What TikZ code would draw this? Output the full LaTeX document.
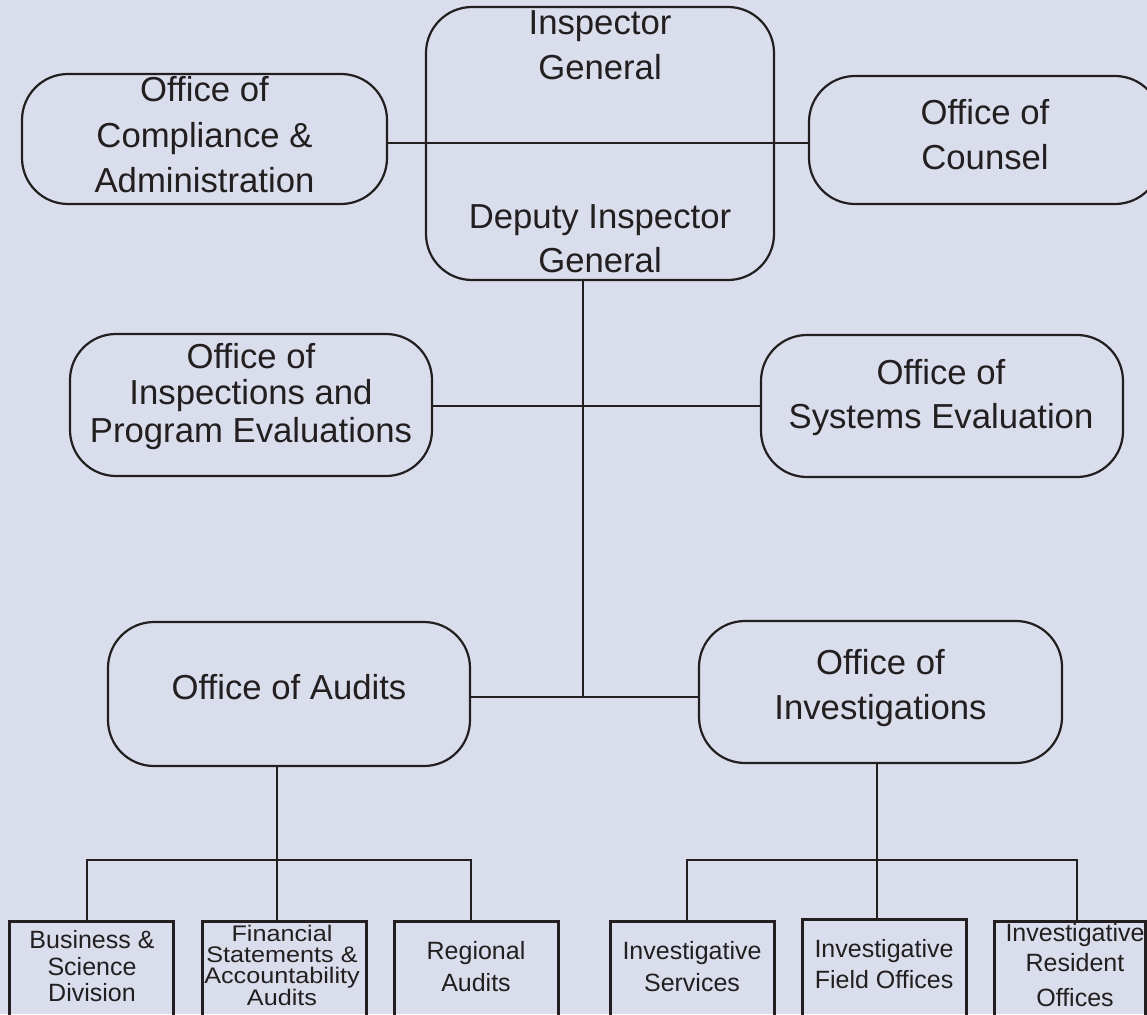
\documentclass[tikz,border=0pt]{standalone}
\usepackage{fontspec}
\setmainfont{Liberation Sans}
\newfontfamily\widesans[FakeStretch=1.12]{Liberation Sans}
\definecolor{bg}{HTML}{DADDEB}
\definecolor{ink}{HTML}{231F20}
\begin{document}
\begin{tikzpicture}[x=1pt,y=-1pt,
  office/.style={draw=ink, line width=2.2pt, rounded corners=46pt, inner sep=0pt},
  unit/.style={draw=ink, line width=3pt, inner sep=0pt, minimum width=164pt, minimum height=119pt},
  link/.style={draw=ink, line width=2pt},
  sublink/.style={draw=ink, line width=2.6pt},
  big/.style={font=\fontsize{34.7}{40}\selectfont, text=ink, anchor=base, inner sep=0pt},
  small/.style={font=\fontsize{25}{30}\selectfont, text=ink, anchor=base, inner sep=0pt},
  narrow/.style={font=\widesans\fontsize{22.5}{26}\selectfont, text=ink, anchor=base, inner sep=0pt}]

% canvas
\useasboundingbox (0,0) rectangle (1147,1014);
\fill[bg] (0,0) rectangle (1147,1014);
\clip (0,0) rectangle (1147,1014);

% top level offices
\node[office, minimum width=365pt, minimum height=130pt] (comp) at (204.5,139) {};
\node[office, minimum width=348pt, minimum height=273pt] (ig) at (600,143.5) {};
\node[office, minimum width=352pt, minimum height=128pt] (couns) at (985,140) {};
\node[office, minimum width=362pt, minimum height=142pt] (insp) at (251,405) {};
\node[office, minimum width=362pt, minimum height=142pt] (sys) at (942,406) {};
\node[office, minimum width=362pt, minimum height=144pt] (aud) at (289,694) {};
\node[office, minimum width=363pt, minimum height=142pt] (inv) at (880.5,692) {};

% divisions
\node[unit] (bus) at (91.5,980.5) {};
\node[unit] (fin) at (284,980.5) {};
\node[unit] (reg) at (476,980.5) {};
\node[unit] (svc) at (692,980.5) {};
\node[unit] (fld) at (884,978.5) {};
\node[unit, minimum width=151pt] (res) at (1069.5,980.5) {};

% labels of the offices
\node[big] (comp1) at (204.5,102) {Office of};
\node[big] (comp2) at (204.5,147) {Compliance \&};
\node[big] (comp3) at (204.5,192) {Administration};
\node[big] (ig1) at (600,35) {Inspector};
\node[big] (ig2) at (600,80) {General};
\node[big] (ig3) at (600,228) {Deputy Inspector};
\node[big] (ig4) at (600,272) {General};
\node[big] (couns1) at (985,124.5) {Office of};
\node[big] (couns2) at (985,169.5) {Counsel};
\node[big] (insp1) at (251,368) {Office of};
\node[big] (insp2) at (251,404.5) {Inspections and};
\node[big] (insp3) at (251,442) {Program Evaluations};
\node[big] (sys1) at (941,384.5) {Office of};
\node[big] (sys2) at (941,428.5) {Systems Evaluation};
\node[big] (aud1) at (289,699) {Office of Audits};
\node[big] (inv1) at (880.5,674) {Office of};
\node[big] (inv2) at (880.5,719) {Investigations};

% labels of the divisions
\node[small] (bus1) at (92,948) {Business \&};
\node[small] (bus2) at (92,975) {Science};
\node[small] (bus3) at (92,1001) {Division};
\node[narrow] (fin1) at (282,941) {Financial};
\node[narrow] (fin2) at (282,962) {Statements \&};
\node[narrow] (fin3) at (282,983) {Accountability};
\node[narrow] (fin4) at (282,1005) {Audits};
\node[small] (reg1) at (476,959.5) {Regional};
\node[small] (reg2) at (476,991) {Audits};
\node[small] (svc1) at (692,959.5) {Investigative};
\node[small] (svc2) at (692,991) {Services};
\node[small] (fld1) at (884,957) {Investigative};
\node[small] (fld2) at (884,988.5) {Field Offices};
\node[small] (res1) at (1075,941) {Investigative};
\node[small] (res2) at (1075,971) {Resident};
\node[small] (res3) at (1075,1006) {Offices};

% junction points of the chart
\coordinate (staff) at (583,143);
\coordinate (mid) at (583,405.5);
\coordinate (spine) at (583,697);
\coordinate (audbus) at (277,860);
\coordinate (invbus) at (877,860);
\coordinate (busdrop) at (87,860);
\coordinate (findrop) at (277,860);
\coordinate (regdrop) at (471,860);
\coordinate (svcdrop) at (687,860);
\coordinate (flddrop) at (877,860);
\coordinate (resdrop) at (1077,860);

% connectors
\draw[link] (comp.east |- staff) -- (couns.west |- staff);
\draw[link] (ig.south -| spine) -- (spine);
\draw[link] (insp.east |- mid) -- (sys.west |- mid);
\draw[link] (aud.east |- spine) -- (inv.west |- spine);
\draw[link] (aud.south -| audbus) -- (audbus);
\draw[link] (inv.south -| invbus) -- (invbus);

\draw[sublink] (bus.north -| busdrop) -- (busdrop) -- (regdrop) -- (reg.north -| regdrop);
\draw[sublink] (findrop) -- (fin.north -| findrop);
\draw[sublink] (svc.north -| svcdrop) -- (svcdrop) -- (resdrop) -- (res.north -| resdrop);
\draw[sublink] (flddrop) -- (fld.north -| flddrop);
\end{tikzpicture}
\end{document}
